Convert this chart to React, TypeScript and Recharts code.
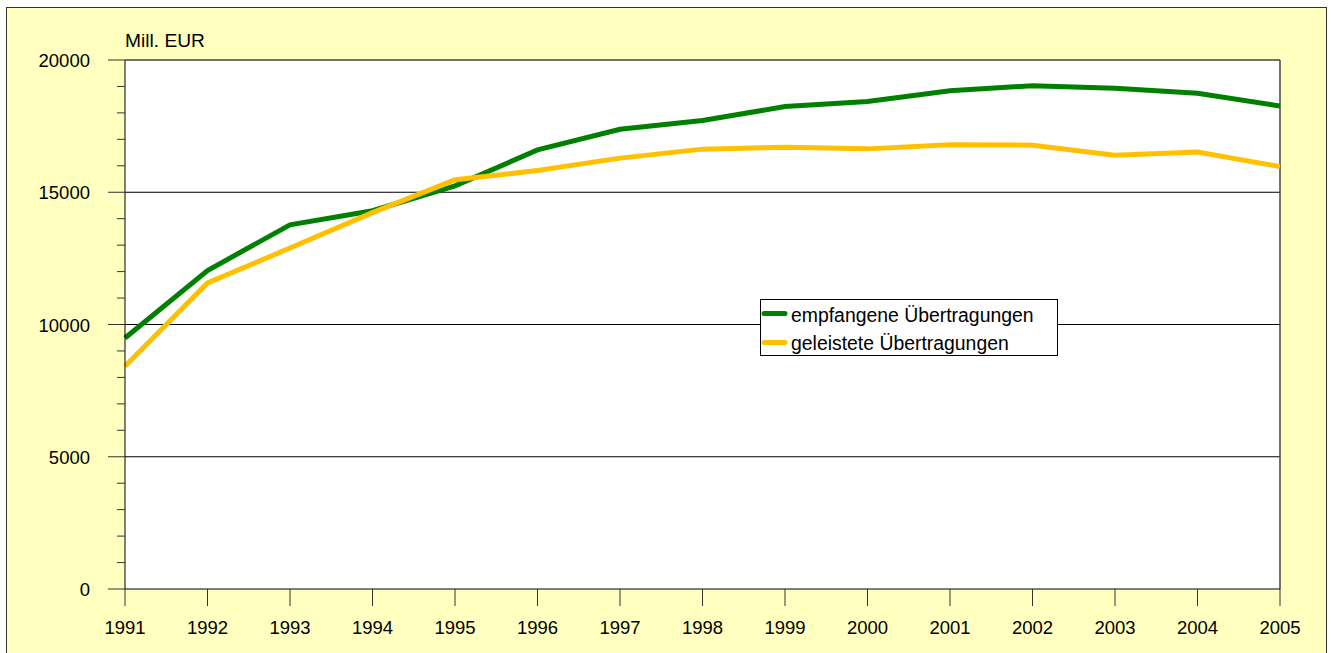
import React from 'react';
import { LineChart, Line, XAxis, YAxis, CartesianGrid, Legend, ReferenceLine } from 'recharts';

const years = ['1991', '1992', '1993', '1994', '1995', '1996', '1997', '1998', '1999', '2000', '2001', '2002', '2003', '2004', '2005'];
const empfangen = [9490, 12040, 13770, 14300, 15240, 16600, 17380, 17710, 18240, 18430, 18840, 19030, 18930, 18740, 18260];
const geleistet = [8420, 11570, 12890, 14230, 15470, 15820, 16290, 16630, 16700, 16640, 16800, 16780, 16400, 16520, 15970];
const yTicks = [0, 1000, 2000, 3000, 4000, 5000, 6000, 7000, 8000, 9000, 10000, 11000, 12000, 13000, 14000, 15000, 16000, 17000, 18000, 19000, 20000];

const seriesList = [
  { key: 'empfangen', name: 'empfangene Übertragungen', color: '#008000' },
  { key: 'geleistet', name: 'geleistete Übertragungen', color: '#FFC000' },
];

const data = years.map((year, i) => ({ year, empfangen: empfangen[i], geleistet: geleistet[i] }));

const FONT = '"Liberation Sans", Arial, sans-serif';

const YTick = (props: any) => {
  const { x, y, payload } = props;
  const major = payload.value % 5000 === 0;
  return (
    <g>
      <line x1={x - (major ? 17 : 8)} x2={x} y1={y} y2={y} stroke="#333" />
      {major && (
        <text x={x - 35} y={y} dy={7} textAnchor="end" fontSize={18.5} fontFamily={FONT} fill="#000">
          {payload.value}
        </text>
      )}
    </g>
  );
};

const XTick = (props: any) => {
  const { x, y, payload } = props;
  return (
    <g>
      <line x1={x} x2={x} y1={y} y2={y + 17} stroke="#333" />
      <text x={x} y={y} dy={45} textAnchor="middle" fontSize={18.5} fontFamily={FONT} fill="#000">
        {payload.value}
      </text>
    </g>
  );
};

// eigene Legende im Kasten, wie im Original
const LegendBox = () => (
  <div style={{ width: 298, height: 57, boxSizing: 'border-box', border: '1px solid #000', background: '#fff' }}>
    <svg width={296} height={55}>
      {seriesList.map((s, i) => (
        <g key={s.key}>
          <line x1={3} x2={24} y1={13.5 + i * 29} y2={13.5 + i * 29} stroke={s.color} strokeWidth={5} strokeLinecap="round" />
          <text x={30} y={21.5 + i * 28.5} fontSize={19.4} fontFamily={FONT} fill="#000">
            {s.name}
          </text>
        </g>
      ))}
    </svg>
  </div>
);

export default function App() {
  return (
    <div style={{ position: 'absolute', left: 0, top: 0, width: 1332, height: 653, overflow: 'hidden', background: '#fff' }}>
      <div
        style={{
          position: 'absolute',
          left: 6,
          top: 7,
          width: 1321,
          height: 660,
          boxSizing: 'border-box',
          border: '1px solid #333',
          background: '#FFFFC0',
        }}
      />
      <div
        style={{
          position: 'absolute',
          left: 125,
          top: 31,
          fontFamily: FONT,
          fontSize: 19.2,
          lineHeight: '19px',
          color: '#000',
        }}
      >
        Mill. EUR
      </div>
      <div style={{ position: 'absolute', left: 0, top: 0 }}>
        <LineChart width={1332} height={653} data={data} margin={{ top: 60, right: 52, left: 65, bottom: 24 }}>
          <CartesianGrid
            horizontal
            vertical={false}
            horizontalValues={[5000, 10000, 15000]}
            stroke="#000"
            fill="#fff"
            strokeOpacity={1}
          />
          <ReferenceLine y={20000} stroke="#444" strokeWidth={1.5} ifOverflow="visible" />
          <ReferenceLine x="2005" stroke="#444" strokeWidth={1.5} ifOverflow="visible" />
          <XAxis
            dataKey="year"
            height={40}
            axisLine={{ stroke: '#000' }}
            tickLine={false}
            tickSize={0}
            tickMargin={0}
            interval={0}
            tick={<XTick />}
          />
          <YAxis
            width={60}
            domain={[0, 20000]}
            ticks={yTicks}
            interval={0}
            axisLine={{ stroke: '#000' }}
            tickLine={false}
            tickSize={0}
            tickMargin={0}
            tick={<YTick />}
          />
          <Legend
            layout="horizontal"
            verticalAlign="middle"
            align="center"
            content={() => <LegendBox />}
            wrapperStyle={{ position: 'absolute', left: 760, top: 299, width: 298, height: 57 }}
          />
          {seriesList.map((s) => (
            <Line
              key={s.key}
              dataKey={s.key}
              name={s.name}
              stroke={s.color}
              strokeWidth={5}
              dot={false}
              type="linear"
              isAnimationActive={false}
            />
          ))}
        </LineChart>
      </div>
    </div>
  );
}
